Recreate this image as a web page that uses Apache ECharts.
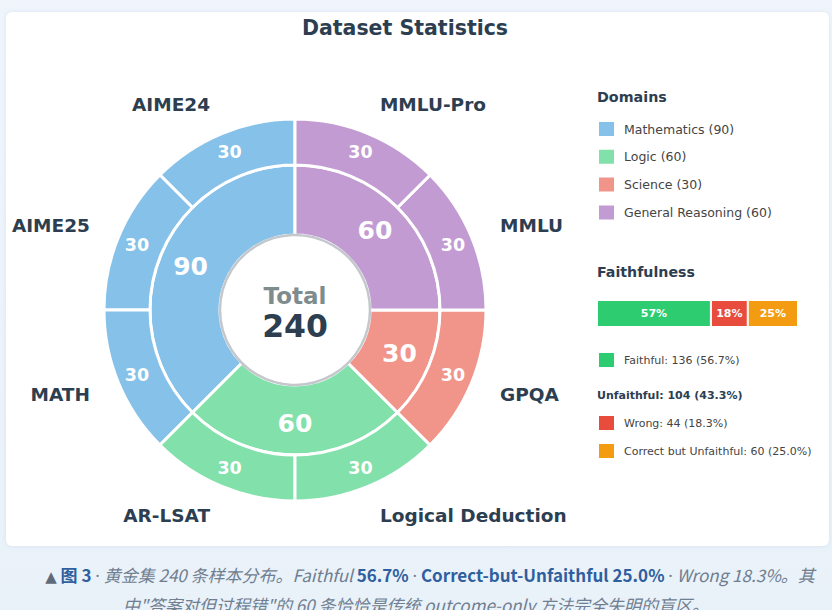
<!DOCTYPE html>
<html>
<head>
<meta charset="utf-8">
<script src="https://cdn.jsdelivr.net/npm/echarts@6/dist/echarts.min.js"></script>
<style>
  html, body { margin: 0; padding: 0; width: 832px; height: 610px; overflow: hidden;
    background: linear-gradient(#f0f5fc, #e9f1f9); font-family: "DejaVu Sans", sans-serif; }
  #card { position: absolute; left: 6px; top: 12px; width: 823px; height: 534px; background: #fff;
    border-radius: 6px; box-shadow: 0 0 4px rgba(180,200,220,0.35); }
  #chart { position: absolute; left: 0; top: 0; width: 832px; height: 560px; }
  #caption { position: absolute; left: 0; top: 561px; width: 832px; text-align: center;
    font-family: "Noto Sans CJK SC", "Noto Sans", sans-serif; font-size: 17px; line-height: 27px;
    color: #6f7e90; white-space: nowrap; }
  #caption i { font-style: italic; }
  #caption b { font-style: normal; font-weight: bold; color: #2f5f9e; }
  #caption .tri { color: #5f6b78; font-style: normal; font-size: 15px; font-family: "DejaVu Sans", sans-serif; }
  #caption .dot { font-family: "Noto Sans", sans-serif; font-style: normal; }
  #caption .l1 { position: relative; left: 14px; }
</style>
</head>
<body>
<div id="card"></div>
<div id="chart"></div>
<div id="caption"><span class="l1"><span class="tri">▲</span> <b>图 3</b> <i><span class="dot">·</span> 黄金集 240 条样本分布。Faithful </i><b>56.7%</b><i> <span class="dot">·</span> </i><b>Correct-but-Unfaithful 25.0%</b><i> <span class="dot">·</span> Wrong 18.3%。其</i></span><br><i>中"答案对但过程错"的 60 条恰恰是传统 outcome-only 方法完全失明的盲区。</i></div>
<script>
// ---- data ----
const domainNames = ['Mathematics', 'Logic', 'Science', 'General Reasoning'];
const domainCounts = [90, 60, 30, 60];
const domainColors = ['#85c1e9', '#82e0aa', '#f1948a', '#c39bd3'];
const subsetNames = ['AIME24', 'AIME25', 'MATH', 'AR-LSAT', 'Logical Deduction', 'GPQA', 'MMLU', 'MMLU-Pro'];
const subsetCounts = [30, 30, 30, 30, 30, 30, 30, 30];
const subsetDomain = [0, 0, 0, 1, 1, 2, 3, 3];
const faithNames = ['Faithful', 'Wrong', 'Correct but Unfaithful'];
const faithCounts = [136, 44, 60];
const faithColors = ['#2ecc71', '#e74c3c', '#f39c12'];

const total = domainCounts.reduce((a, b) => a + b, 0);
const faithTotal = faithCounts.reduce((a, b) => a + b, 0);
const pct = v => (v / faithTotal * 100).toFixed(1) + '%';
const dark = '#2c3e50';
const CX = 295, CY = 310;

const innerData = domainNames.map((n, i) => ({ name: n, value: domainCounts[i], itemStyle: { color: domainColors[i] } }));
const outerData = subsetNames.map((n, i) => ({ name: n, value: subsetCounts[i], itemStyle: { color: domainColors[subsetDomain[i]] } }));

const chart = echarts.init(document.getElementById('chart'), null, { renderer: 'svg' });

const unfaithful = faithCounts[1] + faithCounts[2];

const option = {
  animation: false,
  backgroundColor: 'transparent',
  legend: [
    {
      data: domainNames, orient: 'vertical', left: 597, top: 120, padding: 0, icon: 'rect',
      itemWidth: 17, itemHeight: 16, itemGap: 9.8, selectedMode: false,
      formatter: name => name + ' (' + domainCounts[domainNames.indexOf(name)] + ')',
      textStyle: { fontFamily: 'DejaVu Sans', fontSize: 12.5, color: '#444', padding: [0, 0, 0, 4] }
    },
    {
      data: [faithNames[0]], orient: 'vertical', left: 597, top: 351, padding: 0, icon: 'rect',
      itemWidth: 17, itemHeight: 16, selectedMode: false,
      formatter: name => name + ': ' + faithCounts[0] + ' (' + pct(faithCounts[0]) + ')',
      textStyle: { fontFamily: 'DejaVu Sans', fontSize: 11, color: '#444', padding: [0, 0, 0, 4] }
    },
    {
      data: faithNames.slice(1), orient: 'vertical', left: 597, top: 414, padding: 0, icon: 'rect',
      itemWidth: 17, itemHeight: 16, itemGap: 10, selectedMode: false,
      formatter: name => { const i = faithNames.indexOf(name); return name + ': ' + faithCounts[i] + ' (' + pct(faithCounts[i]) + ')'; },
      textStyle: { fontFamily: 'DejaVu Sans', fontSize: 11, color: '#444', padding: [0, 0, 0, 4] }
    }
  ],
  grid: { left: 597, top: 300, width: 201, height: 27, containLabel: false },
  xAxis: { type: 'value', min: 0, max: faithTotal, show: false },
  yAxis: { type: 'category', data: ['Faithfulness'], show: false },
  graphic: [
    { type: 'text', x: 405, y: 28, z: 20, style: { text: 'Dataset Statistics', fontFamily: 'DejaVu Sans', fontWeight: 'bold', fontSize: 20.5, fill: dark, textAlign: 'center', textVerticalAlign: 'middle' } },
    { type: 'circle', z: 15, shape: { cx: CX, cy: CY, r: 75 }, style: { fill: '#fff', stroke: '#c4c8cc', lineWidth: 2.5 } },
    { type: 'text', x: CX, y: 296, z: 20, style: { text: 'Total', fontFamily: 'DejaVu Sans', fontWeight: 'bold', fontSize: 23, fill: '#7f8c8d', textAlign: 'center', textVerticalAlign: 'middle' } },
    { type: 'text', x: CX, y: 326, z: 20, style: { text: String(total), fontFamily: 'DejaVu Sans', fontWeight: 'bold', fontSize: 31.5, fill: dark, textAlign: 'center', textVerticalAlign: 'middle' } },
    { type: 'text', x: 597, y: 97, z: 20, style: { text: 'Domains', fontFamily: 'DejaVu Sans', fontWeight: 'bold', fontSize: 14.3, fill: dark, textVerticalAlign: 'middle' } },
    { type: 'text', x: 597, y: 272, z: 20, style: { text: 'Faithfulness', fontFamily: 'DejaVu Sans', fontWeight: 'bold', fontSize: 14.2, fill: dark, textVerticalAlign: 'middle' } },
    { type: 'text', x: 597, y: 395, z: 20, style: { text: 'Unfaithful: ' + unfaithful + ' (' + pct(unfaithful) + ')', fontFamily: 'DejaVu Sans', fontWeight: 'bold', fontSize: 11, fill: dark, textVerticalAlign: 'middle' } }
  ],
  series: [
    {
      type: 'pie', name: 'Domains', center: [CX, CY], radius: [75, 145], startAngle: 90, clockwise: false,
      silent: true, avoidLabelOverlap: false,
      itemStyle: { borderColor: '#fff', borderWidth: 3 },
      label: { show: true, position: 'inside', formatter: '{c}', color: '#fff', fontFamily: 'DejaVu Sans', fontWeight: 'bold', fontSize: 25 },
      labelLine: { show: false },
      emphasis: { disabled: true },
      data: innerData
    },
    {
      type: 'pie', name: 'Subsets', center: [CX, CY], radius: [145, 191], startAngle: 90, clockwise: false,
      silent: true, avoidLabelOverlap: false,
      itemStyle: { borderColor: '#fff', borderWidth: 3 },
      label: { show: true, position: 'inside', formatter: '{c}', color: '#fff', fontFamily: 'DejaVu Sans', fontWeight: 'bold', fontSize: 17.5 },
      labelLine: { show: false },
      emphasis: { disabled: true },
      data: outerData
    },
    {
      type: 'pie', name: 'SubsetNames', center: [CX, CY], radius: [190, 191], startAngle: 90, clockwise: false,
      silent: true, avoidLabelOverlap: false,
      itemStyle: { color: 'rgba(0,0,0,0)', borderWidth: 0 },
      label: { show: true, position: 'outside', formatter: '{b}', color: dark, fontFamily: 'DejaVu Sans', fontWeight: 'bold', fontSize: 18.5, distanceToLabelLine: 0 },
      labelLine: { show: false, length: 31, length2: 0 },
      emphasis: { disabled: true },
      data: subsetNames.map((n, i) => ({ name: n, value: subsetCounts[i] }))
    },
    ...faithNames.map((n, i) => ({
      type: 'bar', name: n, stack: 'faith', barWidth: '100%', silent: true,
      itemStyle: { color: faithColors[i], borderColor: '#fff', borderWidth: 1 },
      label: { show: true, position: 'inside', formatter: p => Math.round(p.value / faithTotal * 100) + '%', color: '#fff', fontFamily: 'DejaVu Sans', fontWeight: 'bold', fontSize: 11 },
      data: [faithCounts[i]]
    }))
  ]
};
chart.setOption(option);
</script>
</body>
</html>
